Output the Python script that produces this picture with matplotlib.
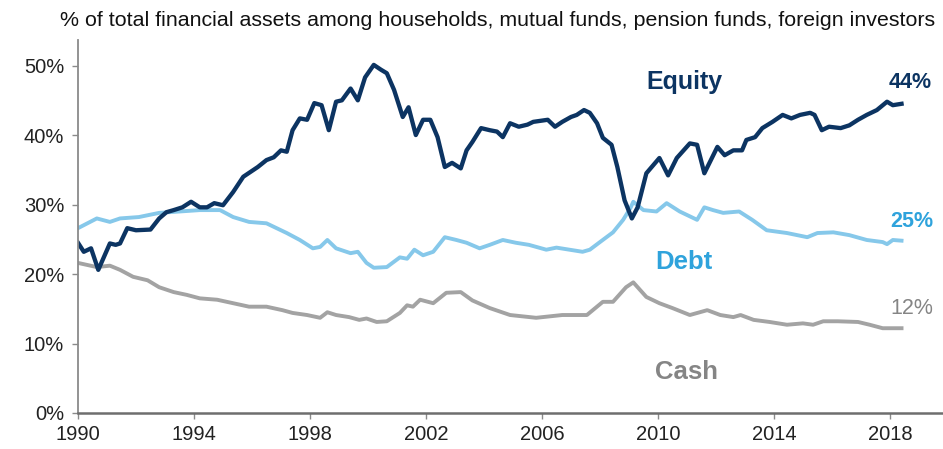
import matplotlib.pyplot as plt
from matplotlib.ticker import FuncFormatter

plt.rcParams['font.family'] = ['Liberation Sans', 'DejaVu Sans']

# share of total financial assets, %
equity_years = [1990.0, 1990.2, 1990.45, 1990.7, 1991.1, 1991.3, 1991.45, 1991.7, 1992.0, 1992.5,
                1992.8, 1993.05, 1993.3, 1993.6, 1993.9, 1994.2, 1994.45, 1994.7, 1995.0, 1995.35,
                1995.7, 1996.2, 1996.5, 1996.75, 1997.0, 1997.2, 1997.4, 1997.65, 1997.9, 1998.15,
                1998.4, 1998.65, 1998.9, 1999.1, 1999.4, 1999.65, 1999.9, 2000.2, 2000.45, 2000.65,
                2000.9, 2001.2, 2001.4, 2001.65, 2001.9, 2002.15, 2002.4, 2002.65, 2002.9, 2003.2,
                2003.4, 2003.6, 2003.9, 2004.2, 2004.45, 2004.65, 2004.9, 2005.2, 2005.5, 2005.7,
                2006.2, 2006.45, 2006.7, 2007.0, 2007.2, 2007.45, 2007.65, 2007.9, 2008.1, 2008.4,
                2008.6, 2008.85, 2009.1, 2009.3, 2009.6, 2010.05, 2010.35, 2010.65, 2011.1, 2011.35,
                2011.6, 2012.05, 2012.3, 2012.6, 2012.9, 2013.05, 2013.35, 2013.6, 2013.95, 2014.3,
                2014.6, 2014.9, 2015.25, 2015.4, 2015.65, 2015.9, 2016.3, 2016.6, 2016.9, 2017.2,
                2017.55, 2017.9, 2018.1, 2018.4]
equity = [24.5, 23.2, 23.7, 20.6, 24.4, 24.2, 24.4, 26.6, 26.3, 26.4,
          28.0, 28.9, 29.2, 29.6, 30.4, 29.6, 29.6, 30.2, 29.9, 31.8,
          34.0, 35.4, 36.4, 36.8, 37.8, 37.6, 40.7, 42.4, 42.2, 44.6,
          44.3, 40.7, 44.8, 45.0, 46.7, 45.0, 48.3, 50.1, 49.4, 48.9,
          46.5, 42.6, 44.0, 40.0, 42.2, 42.2, 39.7, 35.4, 36.0, 35.2,
          37.8, 39.0, 41.0, 40.7, 40.5, 39.7, 41.7, 41.2, 41.5, 41.9,
          42.2, 41.2, 41.9, 42.6, 42.9, 43.6, 43.2, 41.7, 39.6, 38.6,
          35.4, 30.6, 28.0, 29.6, 34.5, 36.7, 34.2, 36.7, 38.8, 38.6,
          34.5, 38.3, 37.1, 37.8, 37.8, 39.3, 39.7, 41.0, 41.9, 42.9,
          42.4, 42.9, 43.2, 42.9, 40.7, 41.2, 41.0, 41.4, 42.2, 42.9,
          43.6, 44.8, 44.3, 44.5]

debt_years = [1990.0, 1990.65, 1991.1, 1991.45, 1992.1, 1992.8, 1993.5, 1994.2, 1994.9, 1995.35,
              1995.9, 1996.5, 1996.85, 1997.2, 1997.65, 1998.1, 1998.35, 1998.6, 1998.9, 1999.4,
              1999.65, 1999.95, 2000.2, 2000.65, 2001.1, 2001.35, 2001.6, 2001.9, 2002.25, 2002.65,
              2003.05, 2003.4, 2003.85, 2004.2, 2004.65, 2005.1, 2005.55, 2006.15, 2006.5, 2006.95,
              2007.4, 2007.65, 2008.0, 2008.45, 2008.8, 2009.05, 2009.15, 2009.5, 2009.95, 2010.3,
              2010.75, 2011.35, 2011.6, 2011.9, 2012.25, 2012.8, 2013.25, 2013.75, 2014.45, 2015.15,
              2015.5, 2016.05, 2016.6, 2017.2, 2017.75, 2017.9, 2018.1, 2018.4]
debt = [26.6, 28.0, 27.5, 28.0, 28.2, 28.8, 29.0, 29.2, 29.2, 28.2,
        27.5, 27.3, 26.6, 25.9, 24.9, 23.7, 23.9, 24.9, 23.7, 23.0,
        23.2, 21.6, 20.9, 21.0, 22.4, 22.2, 23.5, 22.7, 23.2, 25.3,
        24.9, 24.5, 23.7, 24.2, 24.9, 24.5, 24.2, 23.5, 23.8, 23.5,
        23.2, 23.5, 24.6, 26.0, 27.8, 29.5, 30.4, 29.2, 29.0, 30.2,
        29.0, 27.8, 29.6, 29.2, 28.8, 29.0, 27.8, 26.3, 25.9, 25.3,
        25.9, 26.0, 25.6, 24.9, 24.6, 24.3, 24.9, 24.8]

cash_years = [1990.0, 1990.65, 1991.1, 1991.45, 1991.9, 1992.4, 1992.8, 1993.3, 1993.75, 1994.2,
              1994.8, 1995.35, 1995.9, 1996.5, 1997.05, 1997.4, 1997.9, 1998.35, 1998.6, 1998.9,
              1999.35, 1999.7, 1999.95, 2000.3, 2000.65, 2001.1, 2001.35, 2001.55, 2001.8, 2002.25,
              2002.7, 2003.2, 2003.6, 2004.2, 2004.9, 2005.8, 2006.7, 2007.55, 2008.1, 2008.45,
              2008.9, 2009.15, 2009.6, 2010.05, 2010.5, 2011.1, 2011.7, 2012.15, 2012.6, 2012.85,
              2013.3, 2013.85, 2014.45, 2015.0, 2015.35, 2015.7, 2016.2, 2016.9, 2017.3, 2017.75,
              2018.4]
cash = [21.6, 21.0, 21.2, 20.6, 19.6, 19.1, 18.1, 17.4, 17.0, 16.5,
        16.3, 15.8, 15.3, 15.3, 14.8, 14.4, 14.1, 13.7, 14.5, 14.1,
        13.8, 13.4, 13.6, 13.1, 13.2, 14.4, 15.5, 15.3, 16.3, 15.8,
        17.3, 17.4, 16.2, 15.1, 14.1, 13.7, 14.1, 14.1, 16.0, 16.0,
        18.1, 18.8, 16.7, 15.8, 15.1, 14.1, 14.8, 14.1, 13.8, 14.1,
        13.4, 13.1, 12.7, 12.9, 12.7, 13.2, 13.2, 13.1, 12.7, 12.2,
        12.2]

year_ticks = [1990, 1994, 1998, 2002, 2006, 2010, 2014, 2018]
pct_ticks = [0, 10, 20, 30, 40, 50]

navy = '#0c3462'
sky = '#86c8ea'
sky_text = '#2fa3dc'
grey = '#a3a3a3'
grey_text = '#858585'

fig = plt.figure(figsize=(9.43, 4.49), dpi=100)
ax = fig.add_axes([0.0827, 0.0802, 0.9173, 0.831])

ax.plot(cash_years, cash, color=grey, lw=2.8, solid_joinstyle='round')
ax.plot(debt_years, debt, color=sky, lw=2.8, solid_joinstyle='round')
ax.plot(equity_years, equity, color=navy, lw=3.1, solid_joinstyle='round')

ax.set_xlim(1990, 2019.83)
ax.set_ylim(0, 53.7)
ax.set_xticks(year_ticks)
ax.set_yticks(pct_ticks)
ax.yaxis.set_major_formatter(FuncFormatter(lambda v, p: '%d%%' % v))

for side in ['top', 'right']:
    ax.spines[side].set_visible(False)
ax.spines['left'].set_color('#8a8a8a')
ax.spines['left'].set_linewidth(1.3)
ax.spines['bottom'].set_color('#6e6e6e')
ax.spines['bottom'].set_linewidth(1.8)
ax.tick_params(axis='both', colors='#8a8a8a', length=4, width=1, labelsize=14.5, labelcolor='#222222')
ax.tick_params(axis='x', pad=5)
ax.tick_params(axis='y', pad=6)

# series labels
ax.text(2010.9, 47.6, 'Equity', color=navy, fontsize=18, fontweight='bold', ha='center', va='center')
ax.text(2018.7, 47.6, '44%', color=navy, fontsize=15.5, fontweight='bold', ha='center', va='center')
ax.text(2010.9, 21.7, 'Debt', color=sky_text, fontsize=18.5, fontweight='bold', ha='center', va='center')
ax.text(2018.75, 27.5, '25%', color=sky_text, fontsize=15.5, fontweight='bold', ha='center', va='center')
ax.text(2011.0, 5.9, 'Cash', color=grey_text, fontsize=18.5, fontweight='bold', ha='center', va='center')
ax.text(2018.75, 15.1, '12%', color=grey_text, fontsize=15.5, ha='center', va='center')

fig.text(0.992, 0.955,
         '% of total financial assets among households, mutual funds, pension funds, foreign investors',
         fontsize=15.4, color='#111111', ha='right', va='center')

fig.savefig('out.png', dpi=100)
